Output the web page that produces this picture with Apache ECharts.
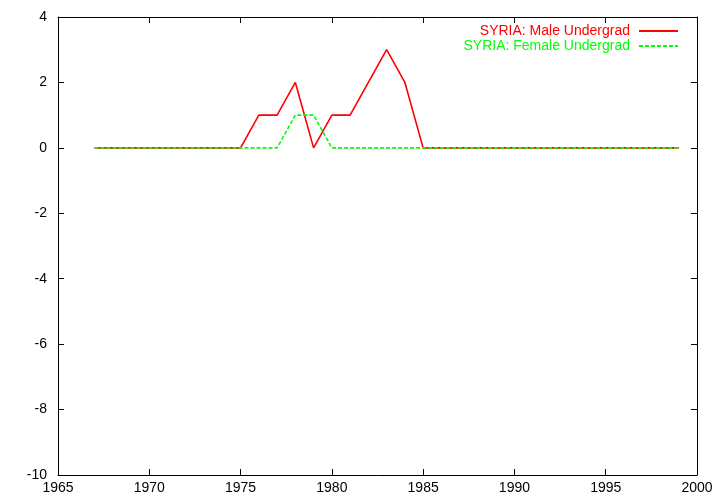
<!DOCTYPE html>
<html><head><meta charset="utf-8">
<script src="https://cdn.jsdelivr.net/npm/echarts@6/dist/echarts.min.js"></script>
<style>html,body{margin:0;padding:0;background:#fff}#c{width:720px;height:504px}</style>
</head><body><div id="c"></div>
<script>
const years = [1967,1968,1969,1970,1971,1972,1973,1974,1975,1976,1977,1978,1979,1980,1981,1982,1983,1984,1985,1986,1987,1988,1989,1990,1991,1992,1993,1994,1995,1996,1997,1998,1999];
const maleUndergrad = [0,0,0,0,0,0,0,0,0,1,1,2,0,1,1,2,3,2,0,0,0,0,0,0,0,0,0,0,0,0,0,0,0];
const femaleUndergrad = [0,0,0,0,0,0,0,0,0,0,0,1,1,0,0,0,0,0,0,0,0,0,0,0,0,0,0,0,0,0,0,0,0];
const seriesNames = ['SYRIA: Male Undergrad', 'SYRIA: Female Undergrad'];
const xTicks = {min:1965, max:2000, interval:5};
const yTicks = {min:-10, max:4, interval:2};

const font = 'Liberation Sans, Helvetica, Arial, sans-serif';
const chart = echarts.init(document.getElementById('c'), null, {renderer:'canvas'});
const axBase = {
  axisLine:{show:true, onZero:false, lineStyle:{color:'#000', width:1}},
  axisTick:{show:true, inside:true, length:6, lineStyle:{color:'#000'}},
  splitLine:{show:false},
};
chart.setOption({
  animation:false,
  backgroundColor:'#fff',
  grid:{left:58, right:23, top:17, bottom:29},
  legend:{
    orient:'vertical', right:36, top:19, align:'right', itemWidth:39, itemHeight:12, itemGap:1,
    itemStyle:{opacity:0},
    textStyle:{fontFamily:font, fontSize:14, padding:[0,4,0,0]},
    data:[{name:seriesNames[0], textStyle:{color:'#ff0000'}},{name:seriesNames[1], textStyle:{color:'#00ff00'}}]
  },
  xAxis:[
    Object.assign({type:'value', min:xTicks.min, max:xTicks.max, interval:xTicks.interval, position:'bottom',
      axisLabel:{color:'#000', fontFamily:font, fontSize:14, margin:6, formatter:v=>String(v)}}, axBase),
    Object.assign({type:'value', min:xTicks.min, max:xTicks.max, interval:xTicks.interval, position:'top',
      axisLabel:{show:false}}, axBase)
  ],
  yAxis:[
    Object.assign({type:'value', min:yTicks.min, max:yTicks.max, interval:yTicks.interval, position:'left',
      axisLabel:{color:'#000', fontFamily:font, fontSize:14, margin:11}}, axBase),
    Object.assign({type:'value', min:yTicks.min, max:yTicks.max, interval:yTicks.interval, position:'right',
      axisLabel:{show:false}}, axBase)
  ],
  series:[
    {name:seriesNames[0], type:'line', xAxisIndex:0, yAxisIndex:0, symbol:'none', showSymbol:false, color:'#ff0000',
      lineStyle:{color:'#ff0000', width:1.6}, data:years.map((y,i)=>[y, maleUndergrad[i]])},
    {name:seriesNames[1], type:'line', xAxisIndex:0, yAxisIndex:0, symbol:'none', showSymbol:false, color:'#00ff00',
      lineStyle:{color:'#00ff00', width:1.6, type:[4,2]}, data:years.map((y,i)=>[y, femaleUndergrad[i]])}
  ]
});
</script></body></html>
